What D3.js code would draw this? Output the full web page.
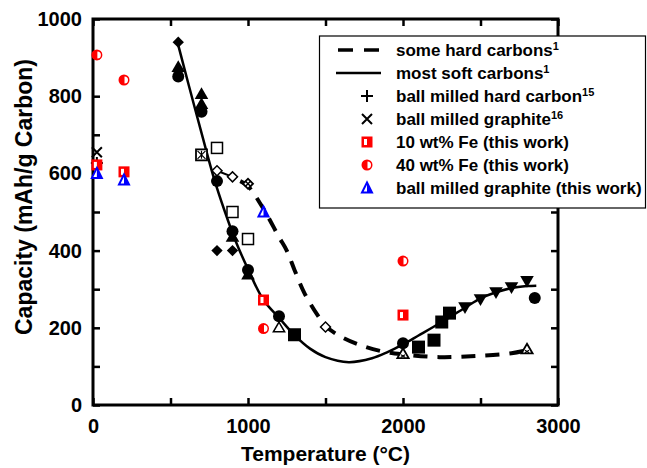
<!DOCTYPE html>
<html>
<head>
<meta charset="utf-8">
<script src="https://cdn.jsdelivr.net/npm/d3@7"></script>
<style>
  html, body { margin: 0; padding: 0; background: #fff; }
  svg { display: block; font-family: "Liberation Sans", Arial, Helvetica, sans-serif; font-weight: bold; }
</style>
</head>
<body>
<div id="chart"></div>
<script>
// 曲线数据 (温度 °C, 容量 mAh/g)
const softCarbonCurve = [[545, 940], [620, 825], [700, 705], [780, 588], [850, 502], [920, 425], [1000, 352], [1100, 272], [1200, 226], [1300, 181], [1400, 146], [1500, 124], [1650, 111], [1800, 121], [1900, 137], [2000, 157], [2100, 180], [2250, 215], [2400, 252], [2500, 276], [2600, 292], [2700, 303], [2800, 308], [2860, 309]];
const hardCarbonCurve = [[950, 580], [1000, 567], [1100, 508], [1200, 435], [1250, 400], [1300, 350], [1364, 290], [1450, 232], [1505, 203], [1600, 177], [1740, 153], [1890, 137], [2000, 131], [2235, 124], [2474, 127], [2700, 134], [2800, 142]];

// 本工作数据
const fe10Points = [[25, 622], [200, 604], [1100, 272], [2000, 233]];
const fe40Points = [[25, 907], [200, 842], [1100, 198], [2000, 373]];
const bmGraphiteThisWork = [[25, 600], [200, 583], [1100, 500]];
const bmHardCarbon = [[25, 627]];
const bmGraphite = [[25, 655]];

// 文献数据
const filledDiamonds = [[550, 940], [800, 400], [900, 400]];
const filledTriangles = [[550, 873], [700, 803], [700, 777], [900, 433], [1000, 335]];
const filledCircles = [[550, 851], [700, 760], [800, 580], [900, 450], [1000, 350], [1200, 230], [2000, 160], [2850, 277]];
const openSquares = [[800, 666], [900, 500], [1000, 430]];
const hatchSquares = [[700, 648]];
const filledSquares = [[1300, 182], [2100, 150], [2200, 168], [2250, 215], [2300, 238]];
const invTriangles = [[2400, 256], [2500, 277], [2600, 295], [2700, 308], [2800, 324]];
const openDiamonds = [[800, 607], [900, 591], [1500, 202]];
const hatchDiamonds = [[1000, 573]];
const openTriangles = [[1200, 198]];
const hatchTriangles = [[2000, 130], [2800, 142]];

const xTicks = [0, 500, 1000, 1500, 2000, 2500, 3000];
const xLabels = [0, 1000, 2000, 3000];
const yTicks = d3.range(0, 1001, 100);
const yLabels = [0, 200, 400, 600, 800, 1000];

const legendItems = [
  { type: 'dash', text: 'some hard carbons', sup: '1' },
  { type: 'solid', text: 'most soft carbons', sup: '1' },
  { type: 'plus', text: 'ball milled hard carbon', sup: '15' },
  { type: 'cross', text: 'ball milled graphite', sup: '16' },
  { type: 'fe10', text: '10 wt% Fe (this work)' },
  { type: 'fe40', text: '40 wt% Fe (this work)' },
  { type: 'bmg', text: 'ball milled graphite (this work)' }
];

const width = 647, height = 468;
const margin = { top: 19, right: 89, bottom: 63, left: 93 };
const innerW = width - margin.left - margin.right;
const innerH = height - margin.top - margin.bottom;

const svg = d3.select('#chart').append('svg')
  .attr('width', width)
  .attr('height', height);

const g = svg.append('g')
  .attr('transform', `translate(${margin.left},${margin.top})`);

const x = d3.scaleLinear().domain([0, 3000]).range([0, innerW]);
const y = d3.scaleLinear().domain([0, 1000]).range([innerH, 0]);

// 坐标轴 (刻度朝内)
const tickLen = 7;
g.append('g')
  .attr('class', 'axis')
  .attr('transform', `translate(0,${innerH})`)
  .call(d3.axisBottom(x).tickValues(xTicks).tickSizeInner(-tickLen).tickSizeOuter(0).tickPadding(14)
    .tickFormat(d => xLabels.includes(d) ? d : ''));
g.append('g')
  .attr('class', 'axis')
  .call(d3.axisLeft(y).tickValues(yTicks).tickSizeInner(-tickLen).tickSizeOuter(0).tickPadding(11)
    .tickFormat(d => yLabels.includes(d) ? d : ''));
g.append('g')
  .attr('class', 'axis')
  .call(d3.axisTop(x).tickValues(xTicks).tickSizeInner(-tickLen).tickSizeOuter(0).tickFormat(''));
g.append('g')
  .attr('class', 'axis')
  .attr('transform', `translate(${innerW},0)`)
  .call(d3.axisRight(y).tickValues(yTicks).tickSizeInner(-tickLen).tickSizeOuter(0).tickFormat(''));

g.selectAll('.axis .domain').remove();
g.selectAll('.axis line').attr('stroke', '#000').attr('stroke-width', 2.5);
g.selectAll('.axis text')
  .attr('fill', '#000')
  .style('font-size', '20px')
  .style('font-weight', 'bold')
  .style('font-family', '"Liberation Sans", Arial, sans-serif');

g.append('rect')
  .attr('width', innerW)
  .attr('height', innerH)
  .attr('fill', 'none')
  .attr('stroke', '#000')
  .attr('stroke-width', 3);

// 轴标签
svg.append('text')
  .attr('x', margin.left + innerW / 2)
  .attr('y', 461)
  .attr('text-anchor', 'middle')
  .style('font-size', '21px')
  .text('Temperature (°C)');

svg.append('text')
  .attr('transform', `translate(32,197) rotate(-90)`)
  .attr('text-anchor', 'middle')
  .style('font-size', '23px')
  .text('Capacity (mAh/g Carbon)');

// 曲线
const line = d3.line()
  .x(d => x(d[0]))
  .y(d => y(d[1]))
  .curve(d3.curveCatmullRom.alpha(0.5));

g.append('path')
  .datum(softCarbonCurve)
  .attr('d', line)
  .attr('fill', 'none')
  .attr('stroke', '#000')
  .attr('stroke-width', 2.5);

g.append('path')
  .datum(hardCarbonCurve)
  .attr('d', line)
  .attr('fill', 'none')
  .attr('stroke', '#000')
  .attr('stroke-width', 4)
  .attr('stroke-dasharray', '14,10');

// 两个空心菱形之间的连线
g.append('path')
  .datum(openDiamonds.slice(0, 2))
  .attr('d', d3.line().x(d => x(d[0])).y(d => y(d[1])))
  .attr('stroke', '#000')
  .attr('stroke-width', 2);

// 标记
const RED = '#ff0000', BLUE = '#0000ff';

function drawMarker(parent, type, cx, cy) {
  const m = parent.append('g').attr('transform', `translate(${cx},${cy})`);
  const sym = (s, size) => d3.symbol().type(s).size(size)();
  switch (type) {
    case 'circle':
      m.append('circle').attr('r', 6).attr('fill', '#000');
      break;
    case 'triangle':
      m.append('path').attr('d', sym(d3.symbolTriangle, 80)).attr('fill', '#000');
      break;
    case 'invTriangle':
      m.append('path').attr('d', sym(d3.symbolTriangle, 80)).attr('transform', 'rotate(180)').attr('fill', '#000');
      break;
    case 'openTriangle':
      m.append('path').attr('d', sym(d3.symbolTriangle, 55)).attr('fill', '#fff').attr('stroke', '#000').attr('stroke-width', 1.5);
      break;
    case 'hatchTriangle':
      m.append('path').attr('d', sym(d3.symbolTriangle, 55)).attr('fill', '#fff').attr('stroke', '#000').attr('stroke-width', 1.8);
      m.append('path').attr('d', 'M-2,0L2,2.5M2,0L-2,2.5').attr('stroke', '#000').attr('stroke-width', 1.2);
      break;
    case 'diamond':
      m.append('path').attr('d', sym(d3.symbolSquare, 64)).attr('transform', 'rotate(45)').attr('fill', '#000');
      break;
    case 'openDiamond':
      m.append('path').attr('d', sym(d3.symbolSquare, 50)).attr('transform', 'rotate(45)').attr('fill', '#fff').attr('stroke', '#000').attr('stroke-width', 1.5);
      break;
    case 'hatchDiamond':
      m.append('path').attr('d', sym(d3.symbolSquare, 50)).attr('transform', 'rotate(45)').attr('fill', '#fff').attr('stroke', '#000').attr('stroke-width', 1.8);
      m.append('path').attr('d', 'M-3,-3L3,3M-3,3L3,-3').attr('stroke', '#000').attr('stroke-width', 1.5);
      break;
    case 'square':
      m.append('rect').attr('x', -6.5).attr('y', -6.5).attr('width', 13).attr('height', 13).attr('fill', '#000');
      break;
    case 'openSquare':
      m.append('rect').attr('x', -5.5).attr('y', -5.5).attr('width', 11).attr('height', 11).attr('fill', '#fff').attr('stroke', '#000').attr('stroke-width', 1.5);
      break;
    case 'hatchSquare':
      m.append('rect').attr('x', -5.5).attr('y', -5.5).attr('width', 11).attr('height', 11).attr('fill', '#fff').attr('stroke', '#000').attr('stroke-width', 1.8);
      m.append('path').attr('d', 'M-4,-4L4,4M-4,4L4,-4M0,-4L0,4').attr('stroke', '#000').attr('stroke-width', 1.2);
      break;
    case 'plus':
      m.append('path').attr('d', 'M-6,0L6,0M0,-6L0,6').attr('stroke', '#000').attr('stroke-width', 2);
      break;
    case 'cross':
      m.append('path').attr('d', 'M-5,-5L5,5M-5,5L5,-5').attr('stroke', '#000').attr('stroke-width', 2);
      break;
    case 'fe10':
      m.append('rect').attr('x', -5.5).attr('y', -5.5).attr('width', 11).attr('height', 11).attr('fill', RED);
      m.append('rect').attr('x', -3).attr('y', -3).attr('width', 3).attr('height', 6).attr('fill', '#fff');
      break;
    case 'fe40':
      m.append('circle').attr('r', 5.5).attr('fill', RED);
      m.append('path').attr('d', 'M0.5,-3.5A3.5,3.5 0 0 1 0.5,3.5Z').attr('fill', '#fff');
      break;
    case 'bmg':
      m.append('path').attr('d', 'M0,-5.5L5,4.5L-5,4.5Z').attr('fill', '#fff').attr('stroke', BLUE).attr('stroke-width', 2);
      m.append('path').attr('d', 'M0,-5.5L5,4.5L0,4.5Z').attr('fill', BLUE);
      break;
  }
  return m;
}

const markerSeries = [
  [filledDiamonds, 'diamond'],
  [openSquares, 'openSquare'],
  [hatchSquares, 'hatchSquare'],
  [openDiamonds, 'openDiamond'],
  [hatchDiamonds, 'hatchDiamond'],
  [openTriangles, 'openTriangle'],
  [hatchTriangles, 'hatchTriangle'],
  [filledTriangles, 'triangle'],
  [filledCircles, 'circle'],
  [filledSquares, 'square'],
  [invTriangles, 'invTriangle'],
  [bmGraphite, 'cross'],
  [bmHardCarbon, 'plus'],
  [fe10Points, 'fe10'],
  [bmGraphiteThisWork, 'bmg'],
  [fe40Points, 'fe40']
];

const markerLayer = g.append('g');
markerSeries.forEach(([data, type]) => {
  data.forEach(d => drawMarker(markerLayer, type, x(d[0]), y(d[1])));
});

// 图例
const legend = svg.append('g').attr('class', 'legend');
legend.append('rect')
  .attr('x', 319.5)
  .attr('y', 36)
  .attr('width', 326)
  .attr('height', 172)
  .attr('fill', '#fff')
  .attr('stroke', '#000')
  .attr('stroke-width', 1.2);

legendItems.forEach((item, i) => {
  const cy = 50 + i * 23;
  const row = legend.append('g');
  if (item.type === 'dash') {
    row.append('line').attr('x1', 338).attr('x2', 379).attr('y1', cy).attr('y2', cy)
      .attr('stroke', '#000').attr('stroke-width', 3.5).attr('stroke-dasharray', '15,11');
  } else if (item.type === 'solid') {
    row.append('line').attr('x1', 336).attr('x2', 381).attr('y1', cy).attr('y2', cy)
      .attr('stroke', '#000').attr('stroke-width', 2.5);
  } else {
    drawMarker(row, item.type, 367, cy);
  }
  const t = row.append('text')
    .attr('x', 396)
    .attr('y', cy + 6)
    .style('font-size', '17px')
    .text(item.text);
  if (item.sup) {
    t.append('tspan')
      .attr('dy', -6)
      .style('font-size', '11px')
      .text(item.sup);
  }
});
</script>
</body>
</html>
